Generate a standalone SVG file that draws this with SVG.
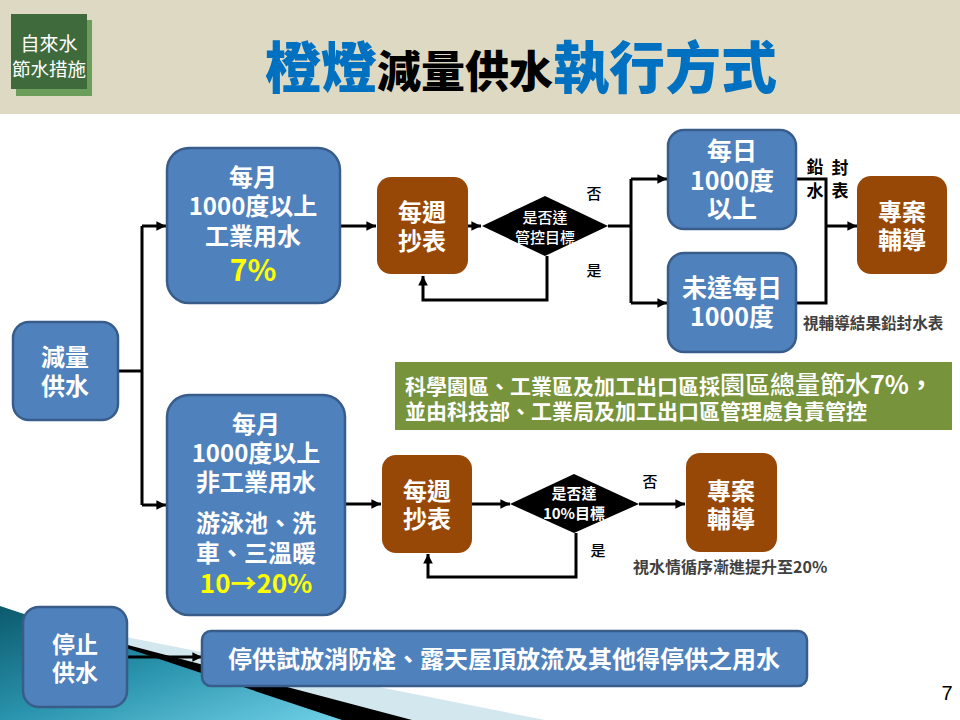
<svg xmlns="http://www.w3.org/2000/svg" width="960" height="720" viewBox="0 0 960 720">
<defs>
<style>
.t{font-family:"Noto Sans CJK TC","Noto Sans CJK SC",sans-serif;}
.w{fill:#ffffff;font-weight:700;text-anchor:middle;}
.blue{fill:#4f81bd;stroke:#385d8a;stroke-width:2.5;}
.brown{fill:#974806;}
.dia{fill:#000000;}
.ln{fill:none;stroke:#000000;stroke-width:3;}
.lab{fill:#000000;font-size:15px;font-weight:500;text-anchor:middle;}
.note{fill:#404040;font-weight:700;}
</style>
<marker id="ah" viewBox="0 0 10 10" refX="10" refY="5" markerWidth="3.4" markerHeight="3.2" orient="auto" markerUnits="strokeWidth">
<path d="M0,0 L10,5 L0,10 z" fill="#000000"/>
</marker>
<linearGradient id="teal" x1="0" y1="0" x2="1" y2="1">
<stop offset="0" stop-color="#0b5a6c"/>
<stop offset="0.5" stop-color="#2a93ad"/>
<stop offset="1" stop-color="#6fd0e6"/>
</linearGradient>
</defs>

<rect x="0" y="0" width="960" height="720" fill="#ffffff"/>

<g id="header">
<rect x="0" y="0" width="960" height="114" fill="#ddd9c3"/>
<rect x="16" y="20" width="76" height="76" fill="#6a9e5a"/>
<rect x="11" y="14" width="76" height="75" fill="#3f6a3c"/>
<text class="t" fill="#ffffff" text-anchor="middle"><tspan x="49" y="51" font-size="19">自來水</tspan><tspan x="49" y="76" font-size="18.5">節水措施</tspan></text>
<text class="t" x="265" y="88" font-weight="900"><tspan fill="#0070c0" font-size="56">橙燈</tspan><tspan fill="#000000" font-size="44">減量供水</tspan><tspan fill="#0070c0" font-size="56">執行方式</tspan></text>
</g>

<g id="decoration">
<polygon points="35,619 545,720 400,720" fill="#d3e7ee"/>
<polygon points="52,625 412,720 340,720" fill="#000000"/>
<polygon points="0,606 342,720 0,720" fill="url(#teal)"/>
</g>

<g id="connectors">
<path class="ln" d="M118,371 H142"/>
<path class="ln" d="M142,226 V505"/>
<path class="ln" d="M142,226 H166" marker-end="url(#ah)"/>
<path class="ln" d="M142,505 H166" marker-end="url(#ah)"/>
<path class="ln" d="M340,226 H376" marker-end="url(#ah)"/>
<path class="ln" d="M467,226 H481" marker-end="url(#ah)"/>
<path class="ln" d="M547,256 V300 H423 V276" marker-end="url(#ah)"/>
<path class="ln" d="M608,226 H631"/>
<path class="ln" d="M631,179 V303"/>
<path class="ln" d="M631,179 H667" marker-end="url(#ah)"/>
<path class="ln" d="M631,303 H667" marker-end="url(#ah)"/>
<path class="ln" d="M797,179 H826 V303 H797"/>
<path class="ln" d="M826,226 H857" marker-end="url(#ah)"/>
<path class="ln" d="M345,504 H381" marker-end="url(#ah)"/>
<path class="ln" d="M472,504 H510" marker-end="url(#ah)"/>
<path class="ln" d="M576,533 V577 H428 V554" marker-end="url(#ah)"/>
<path class="ln" d="M639,504 H685" marker-end="url(#ah)"/>
<path class="ln" d="M127,657 H202" marker-end="url(#ah)"/>
</g>

<g id="labels">
<text class="t lab" x="594" y="199">否</text>
<text class="t lab" x="594" y="276">是</text>
<text class="t lab" x="650" y="487">否</text>
<text class="t lab" x="598" y="556">是</text>
<text class="t" font-size="17" font-weight="700" text-anchor="middle" fill="#000000"><tspan x="815" y="173">鉛</tspan><tspan x="840" y="174">封</tspan><tspan x="815" y="197">水</tspan><tspan x="840" y="197">表</tspan></text>
<text class="t note" x="803" y="329" font-size="15.6">視輔導結果鉛封水表</text>
<text class="t note" x="633" y="573" font-size="16">視水情循序漸進提升至20%</text>
</g>

<g id="node-reduce">
<rect class="blue" x="13" y="322" width="105" height="98" rx="16"/>
<text class="t w" font-size="24"><tspan x="65" y="366">減量</tspan><tspan x="65" y="395">供水</tspan></text>
</g>

<g id="node-industrial">
<rect class="blue" x="167" y="148" width="173" height="155" rx="22"/>
<text class="t w" font-size="24"><tspan x="253" y="186">每月</tspan><tspan x="253" y="215">1000度以上</tspan><tspan x="253" y="245">工業用水</tspan><tspan x="253" y="281" font-size="30" style="fill:#ffff00">7%</tspan></text>
</g>

<g id="node-nonindustrial">
<rect class="blue" x="167" y="395" width="178" height="220" rx="22"/>
<text class="t w" font-size="24"><tspan x="256" y="433">每月</tspan><tspan x="256" y="462">1000度以上</tspan><tspan x="256" y="491">非工業用水</tspan><tspan x="256" y="532">游泳池、洗</tspan><tspan x="256" y="562">車、三溫暖</tspan><tspan x="256" y="593" font-size="26" style="fill:#ffff00">10→20%</tspan></text>
</g>

<g id="node-weekly1">
<rect class="brown" x="377" y="177" width="91" height="97" rx="14"/>
<text class="t w" font-size="24"><tspan x="422" y="221">每週</tspan><tspan x="422" y="250">抄表</tspan></text>
</g>

<g id="node-decision1">
<polygon class="dia" points="482,226 545,196 608,226 545,256"/>
<text class="t w" font-size="15" style="font-weight:500"><tspan x="545" y="223">是否達</tspan><tspan x="545" y="243">管控目標</tspan></text>
</g>

<g id="node-daily-above">
<rect class="blue" x="668" y="130" width="128" height="99" rx="16"/>
<text class="t w" font-size="25"><tspan x="732" y="160">每日</tspan><tspan x="732" y="190">1000度</tspan><tspan x="732" y="218">以上</tspan></text>
</g>

<g id="node-daily-below">
<rect class="blue" x="668" y="253" width="128" height="99" rx="16"/>
<text class="t w" font-size="25"><tspan x="732" y="297">未達每日</tspan><tspan x="732" y="326">1000度</tspan></text>
</g>

<g id="node-guide1">
<rect class="brown" x="857" y="176" width="90" height="98" rx="14"/>
<text class="t w" font-size="24"><tspan x="902" y="221">專案</tspan><tspan x="902" y="249">輔導</tspan></text>
</g>

<g id="node-banner">
<rect x="395" y="362" width="557" height="68" fill="#77933c"/>
<text class="t" fill="#ffffff" font-weight="700"><tspan x="405" y="394" font-size="21">科學園區、工業區及加工出口區採</tspan><tspan font-size="25" font-weight="500">園區總量節水</tspan><tspan font-size="25">7%，</tspan><tspan x="405" y="419" font-size="21">並由科技部、工業局及加工出口區管理處負責管控</tspan></text>
</g>

<g id="node-weekly2">
<rect class="brown" x="382" y="455" width="90" height="98" rx="14"/>
<text class="t w" font-size="24"><tspan x="427" y="500">每週</tspan><tspan x="427" y="528">抄表</tspan></text>
</g>

<g id="node-decision2">
<polygon class="dia" points="510,504 574,474 639,504 574,533"/>
<text class="t w" font-size="15"><tspan x="574" y="499">是否達</tspan><tspan x="574" y="519">10%目標</tspan></text>
</g>

<g id="node-guide2">
<rect class="brown" x="686" y="453" width="91" height="99" rx="14"/>
<text class="t w" font-size="24"><tspan x="731" y="500">專案</tspan><tspan x="731" y="528">輔導</tspan></text>
</g>

<g id="node-stop">
<rect class="blue" x="23" y="607" width="104" height="100" rx="16"/>
<text class="t w" font-size="23"><tspan x="75" y="653">停止</tspan><tspan x="75" y="681">供水</tspan></text>
</g>

<g id="node-stop-detail">
<rect class="blue" x="202" y="631" width="605" height="55" rx="9"/>
<text class="t w" x="504" y="668" font-size="24">停供試放消防栓、露天屋頂放流及其他得停供之用水</text>
</g>

<text x="947" y="700" font-family="Liberation Sans, sans-serif" font-size="20" fill="#000000" text-anchor="middle">7</text>
</svg>
